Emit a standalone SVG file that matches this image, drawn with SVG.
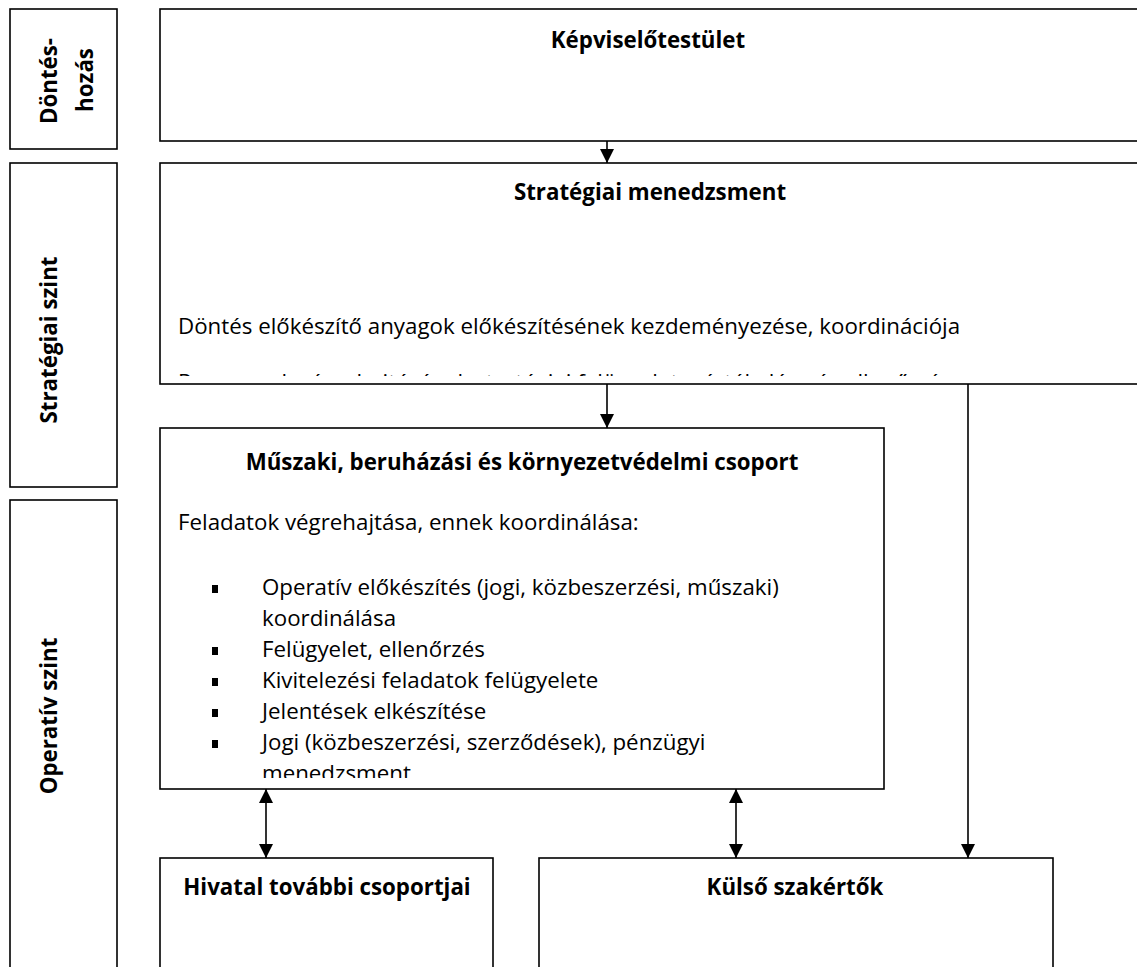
<svg xmlns="http://www.w3.org/2000/svg" width="1137" height="967" viewBox="0 0 1137 967">
<style>
  .box { fill: #fff; stroke: #000; stroke-width: 1.6; }
  .t { font-family: "Open Sans", "Noto Sans", "Liberation Sans", sans-serif; font-size: 22.3px; fill: #000; }
  .b { font-weight: bold; }
  .c { text-anchor: middle; }
  .ln { stroke: #000; stroke-width: 1.6; fill: none; }
  .bul { fill: #000; }
</style>
<defs>
  <marker id="ah" viewBox="0 0 14 14" refX="14" refY="7" markerWidth="14" markerHeight="14" markerUnits="userSpaceOnUse" orient="auto-start-reverse">
    <path d="M0,0 L14,7 L0,14 Z" fill="#000"/>
  </marker>
  <clipPath id="clipStrat"><rect x="160" y="163" width="980" height="213"/></clipPath>
  <clipPath id="clipMusz"><rect x="160" y="428" width="724" height="350"/></clipPath>
</defs>

<g id="level-donteshozas">
  <rect class="box" x="10" y="9" width="107" height="140"/>
  <text class="t b c" transform="translate(57,81) rotate(-90)">Döntés-</text>
  <text class="t b c" transform="translate(93,80) rotate(-90)">hozás</text>
</g>
<g id="level-strategiai">
  <rect class="box" x="10" y="163" width="107" height="324"/>
  <text class="t b c" transform="translate(57,340) rotate(-90)">Stratégiai szint</text>
</g>
<g id="level-operativ">
  <rect class="box" x="10" y="500" width="107" height="480"/>
  <text class="t b c" transform="translate(57,716) rotate(-90)">Operatív szint</text>
</g>

<g id="kepviselotestulet">
  <rect class="box" x="160" y="9" width="990" height="132"/>
  <text class="t b c" x="648" y="48">Képviselőtestület</text>
</g>

<g id="strategiai-menedzsment">
  <rect class="box" x="160" y="163" width="990" height="221"/>
  <text class="t b c" x="650" y="200">Stratégiai menedzsment</text>
  <g clip-path="url(#clipStrat)">
    <text class="t" x="178" y="334">Döntés előkészítő anyagok előkészítésének kezdeményezése, koordinációja</text>
    <text class="t" x="178" y="390">Programok végrehajtásának stratégiai felügyelete, értékelése és ellenőrzése</text>
  </g>
</g>

<g id="muszaki-csoport">
  <rect class="box" x="160" y="428" width="724" height="361"/>
  <text class="t b c" x="522" y="470">Műszaki, beruházási és környezetvédelmi csoport</text>
  <g clip-path="url(#clipMusz)">
    <text class="t" x="178" y="530">Feladatok végrehajtása, ennek koordinálása:</text>
    <rect class="bul" x="212" y="585" width="6" height="8"/>
    <text class="t" x="262" y="595">Operatív előkészítés (jogi, közbeszerzési, műszaki)</text>
    <text class="t" x="262" y="626">koordinálása</text>
    <rect class="bul" x="212" y="647" width="6" height="8"/>
    <text class="t" x="262" y="657">Felügyelet, ellenőrzés</text>
    <rect class="bul" x="212" y="678" width="6" height="8"/>
    <text class="t" x="262" y="688">Kivitelezési feladatok felügyelete</text>
    <rect class="bul" x="212" y="709" width="6" height="8"/>
    <text class="t" x="262" y="719">Jelentések elkészítése</text>
    <rect class="bul" x="212" y="740" width="6" height="8"/>
    <text class="t" x="262" y="750">Jogi (közbeszerzési, szerződések), pénzügyi</text>
    <text class="t" x="262" y="781">menedzsment</text>
  </g>
</g>

<g id="hivatal-csoportjai">
  <rect class="box" x="160" y="858" width="333" height="130"/>
  <text class="t b c" x="327" y="895">Hivatal további csoportjai</text>
</g>

<g id="kulso-szakertok">
  <rect class="box" x="539" y="858" width="514" height="130"/>
  <text class="t b c" x="795" y="895">Külső szakértők</text>
</g>

<g id="connectors">
  <line class="ln" x1="607" y1="141" x2="607" y2="163" marker-end="url(#ah)"/>
  <line class="ln" x1="607" y1="384" x2="607" y2="428" marker-end="url(#ah)"/>
  <line class="ln" x1="968" y1="384" x2="968" y2="858" marker-end="url(#ah)"/>
  <line class="ln" x1="266" y1="789" x2="266" y2="858" marker-start="url(#ah)" marker-end="url(#ah)"/>
  <line class="ln" x1="736" y1="789" x2="736" y2="858" marker-start="url(#ah)" marker-end="url(#ah)"/>
</g>
</svg>
